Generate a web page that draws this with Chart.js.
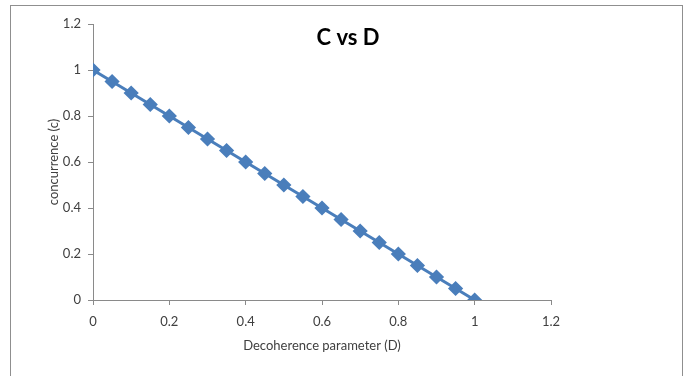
<html><head>
<meta charset="UTF-8">
<title>C vs D</title>
<style>
  body { margin: 0; background: #ffffff; }
  #frame {
    position: absolute;
    left: 10px;
    top: 5px;
    width: 671px;
    height: 400px;
    border: 1px solid #8f8f8f;
  }
  #wrap {
    position: absolute;
    left: 0;
    top: 0;
    width: 688px;
    height: 376px;
  }
</style>
<script src="https://cdn.jsdelivr.net/npm/chart.js"></script>
</head>
<body>
<div id="frame"></div>
<div id="wrap"><canvas id="cvd" width="688" height="376"></canvas></div>
<script>
const decoherence = [0, 0.05, 0.1, 0.15, 0.2, 0.25, 0.3, 0.35, 0.4, 0.45, 0.5,
                     0.55, 0.6, 0.65, 0.7, 0.75, 0.8, 0.85, 0.9, 0.95, 1];
const concurrence = [1, 0.95, 0.9, 0.85, 0.8, 0.75, 0.7, 0.65, 0.6, 0.55, 0.5,
                     0.45, 0.4, 0.35, 0.3, 0.25, 0.2, 0.15, 0.1, 0.05, 0];
const chartTitle = 'C vs D';
const xTitle = 'Decoherence parameter (D)';
const yTitle = 'concurrence (c)';

const axisColor = '#8a8a8a';
const textColor = '#404040';
const lineColor = '#4a7ebb';
const fontFamily = "Lato, 'Open Sans', Arial, sans-serif";
const tickFont = { family: fontFamily, size: 13 };

// excel style numbers: 0, 0.2 ... 1, 1.2
const fmt = v => String(Number(v.toFixed(1)));

// title sits inside the plot area, like the Excel chart
const titlePlugin = {
  id: 'insideTitle',
  afterDraw(chart) {
    const ctx = chart.ctx;
    ctx.save();
    ctx.font = "bold 22px " + fontFamily;
    ctx.fillStyle = '#000';
    ctx.textAlign = 'center';
    ctx.textBaseline = 'middle';
    ctx.fillText(chartTitle, 348, 38);
    ctx.restore();
  }
};

new Chart(document.getElementById('cvd'), {
  type: 'line',
  data: {
    datasets: [{
      data: decoherence.map((d, i) => ({ x: d, y: concurrence[i] })),
      borderColor: lineColor,
      backgroundColor: lineColor,
      borderWidth: 3,
      pointStyle: 'rectRot',
      pointRadius: 5.5,
      pointHoverRadius: 5.5,
      tension: 0
    }]
  },
  options: {
    responsive: false,
    animation: false,
    layout: { padding: { left: 46, right: 137, top: 24, bottom: 22 } },
    plugins: { legend: { display: false }, tooltip: { enabled: false } },
    scales: {
      x: {
        type: 'linear',
        min: 0,
        max: 1.2,
        ticks: { stepSize: 0.2, color: textColor, font: tickFont, padding: 9, callback: fmt },
        grid: { drawOnChartArea: false, color: axisColor, tickLength: 5 },
        border: { color: axisColor },
        title: { display: true, text: xTitle, color: textColor, font: { family: fontFamily, size: 13 }, padding: { top: 4, bottom: 0 } },
        afterFit(scale) { scale.height = 54; }
      },
      y: {
        min: 0,
        max: 1.2,
        ticks: { stepSize: 0.2, color: textColor, font: tickFont, padding: 7, callback: fmt },
        grid: { drawOnChartArea: false, color: axisColor, tickLength: 5 },
        border: { color: axisColor },
        title: { display: true, text: yTitle, color: textColor, font: { family: fontFamily, size: 13 }, padding: 0 },
        afterFit(scale) { scale.width = 47; }
      }
    }
  },
  plugins: [titlePlugin]
});
</script>
</body></html>
